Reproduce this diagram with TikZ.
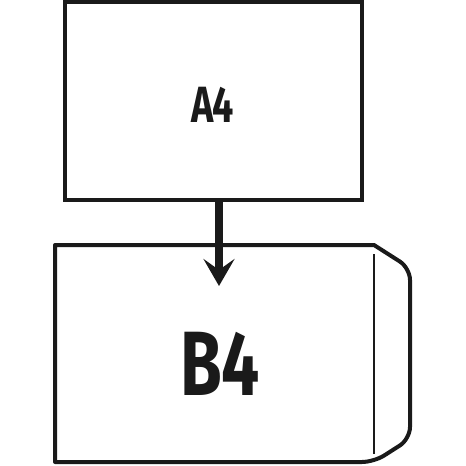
\documentclass[tikz,border=0pt]{standalone}
\usepackage{fontspec}
\newfontfamily\sizefont[FakeStretch=0.74]{Fira Sans Bold}
\usepackage{tikz}
\usetikzlibrary{arrows.meta}
\tikzset{>=latex}
\definecolor{ink}{HTML}{1A1A1A}
\tikzset{
  sheet/.style={draw=ink, line width=0.08cm, inner sep=0pt},
  label/.style={text=ink, inner sep=0pt, font=\sizefont},
}

\begin{document}
\begin{tikzpicture}[x=0.02cm, y=-0.02cm]
   \useasboundingbox (0,0) rectangle (466,466);
   % A4 sheet
   \node[sheet, minimum width=5.94cm, minimum height=3.96cm] (a4) at (213.5,101) {};
   \node[label, font=\sizefont\fontsize{29}{29}\selectfont] (a4label) at (212.5,104.5) {A4};

   % B4 envelope with flap
   \draw[ink, line width=0.08cm, line join=round]
     (55,245) -- (374,245) [rounded corners=0.24cm] -- (410,268) -- (410,439)
     -- (374,462) [sharp corners] -- (55,462) -- cycle;
   \draw[ink, line width=0.045cm] (374,254) -- (374,454);
   \coordinate (flap) at (374,245);
   \node[label, font=\sizefont\fontsize{52}{52}\selectfont] (b4label) at (220.5,363.5) {B4};

   % folded into
   \coordinate (tip) at (219,286);
   \draw[ink, line width=0.15cm, -{Stealth[length=0.54cm, width=0.62cm, inset=0.22cm]}] (tip |- a4.south) -- (tip);
\end{tikzpicture}
\end{document}
